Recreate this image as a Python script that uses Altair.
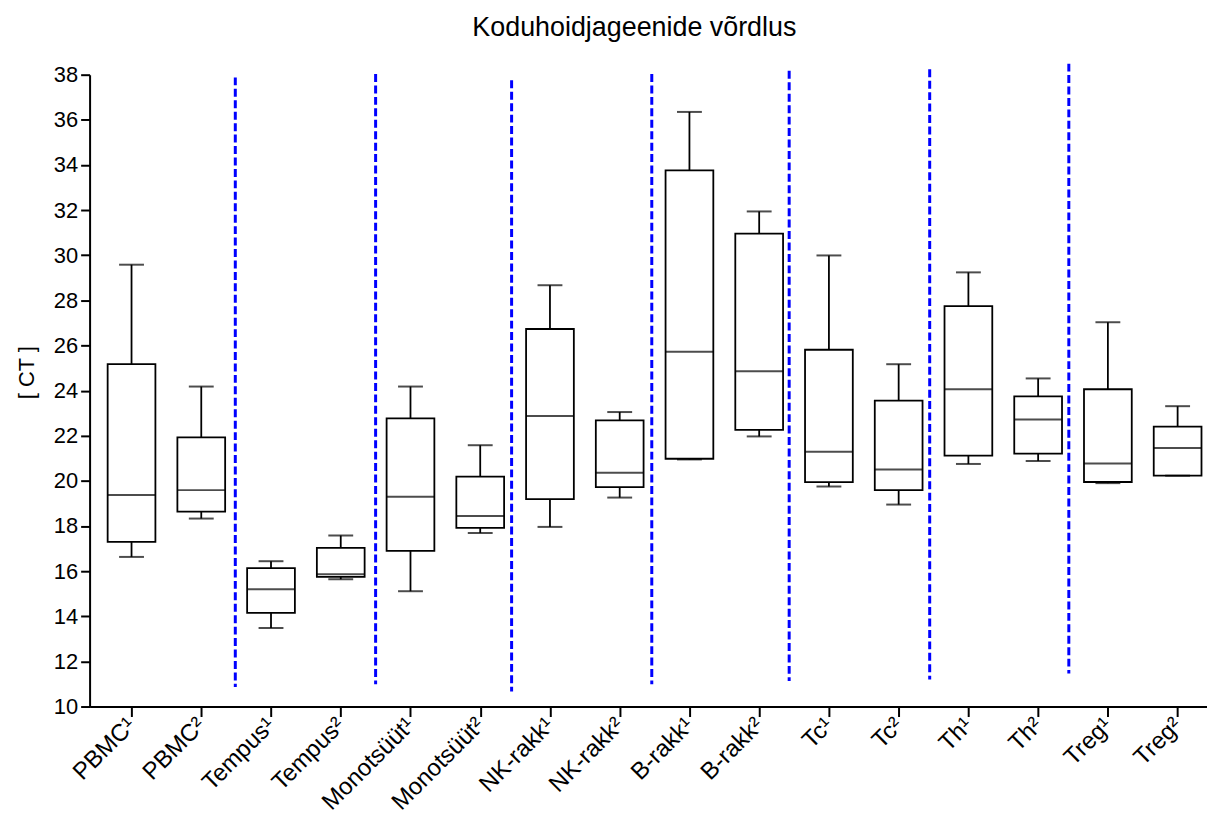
import altair as alt
import pandas as pd

categories = ["PBMC¹", "PBMC²", "Tempus¹", "Tempus²", "Monotsüüt¹", "Monotsüüt²",
              "NK-rakk¹", "NK-rakk²", "B-rakk¹", "B-rakk²", "Tc¹", "Tc²",
              "Th¹", "Th²", "Treg¹", "Treg²"]
whisker_low = [16.63, 18.33, 13.48, 15.64, 15.11, 17.69, 17.96, 19.26, 20.95, 21.97, 19.75, 18.95, 20.75, 20.88, 19.90, 20.23]
quartile1 = [17.30, 18.64, 14.15, 15.75, 16.90, 17.92, 19.19, 19.72, 20.98, 22.26, 19.94, 19.59, 21.12, 21.21, 19.95, 20.23]
median = [19.37, 19.59, 15.20, 15.86, 19.30, 18.44, 22.88, 20.36, 25.72, 24.86, 21.29, 20.50, 24.06, 22.72, 20.77, 21.46]
quartile3 = [25.17, 21.93, 16.13, 17.03, 22.77, 20.19, 26.73, 22.68, 33.76, 30.96, 25.81, 23.56, 27.74, 23.74, 24.06, 22.40]
whisker_high = [29.58, 24.18, 16.44, 17.58, 24.18, 21.58, 28.67, 23.05, 36.35, 31.94, 29.99, 25.17, 29.24, 24.54, 27.03, 23.31]

divider_pos = [1.488, 3.5, 5.45, 7.46, 9.43, 11.445, 13.44]
divider_top = [37.88, 38.03, 37.75, 38.03, 38.17, 38.24, 38.49]
divider_bottom = [10.86, 10.99, 10.67, 10.99, 11.13, 11.2, 11.46]

y_ticks = list(range(10, 39, 2))

FONT = "Liberation Sans"
LW = 1.8

df = pd.DataFrame({
    "idx": list(range(len(categories))),
    "cat": categories,
    "lo": whisker_low,
    "q1": quartile1,
    "med": median,
    "q3": quartile3,
    "hi": whisker_high,
})
div_df = pd.DataFrame({"pos": divider_pos, "top": divider_top, "bottom": divider_bottom})

label_expr = "[" + ",".join("'" + c + "'" for c in categories) + "][datum.value]"

x_scale = alt.Scale(domain=[-0.53, 15.35], nice=False, zero=False)
y_scale = alt.Scale(domain=[10, 38], nice=False, zero=False)

x_axis = alt.Axis(values=list(range(len(categories))), labelExpr=label_expr,
                  labelAngle=-45, labelAlign="right", labelBaseline="middle",
                  labelFontSize=24, labelFont=FONT, labelColor="black",
                  labelPadding=5, labelOverlap=False, labelBound=False, labelFlush=False,
                  tickSize=10, tickWidth=2, tickColor="black",
                  domainWidth=2, domainColor="black", grid=False, title=None)
y_axis = alt.Axis(values=y_ticks, labelFontSize=22, labelFont=FONT, labelColor="black",
                  labelPadding=3, tickSize=9, tickWidth=2, tickColor="black",
                  domainWidth=2, domainColor="black", grid=False,
                  title="[ CT ]", titleFont=FONT, titleFontSize=22, titleFontWeight="normal",
                  titleColor="black", titleX=-63, titleY=299, titleAngle=270,
                  titleAlign="center", titleBaseline="middle")

base = alt.Chart(df)
x_enc = alt.X("idx:Q", scale=x_scale, axis=x_axis)

upper_whisker = base.mark_rule(color="black", strokeWidth=LW).encode(
    x=x_enc, y=alt.Y("q3:Q", scale=y_scale, axis=y_axis), y2="hi:Q")
lower_whisker = base.mark_rule(color="black", strokeWidth=LW).encode(
    x=x_enc, y=alt.Y("lo:Q", scale=y_scale, axis=y_axis), y2="q1:Q")
boxes = base.mark_bar(fill="white", stroke="black", strokeWidth=LW, size=48).encode(
    x=x_enc, y=alt.Y("q1:Q", scale=y_scale, axis=y_axis), y2="q3:Q")
medians = base.mark_tick(orient="horizontal", color="black", size=48, thickness=2).encode(
    x=x_enc, y=alt.Y("med:Q", scale=y_scale, axis=y_axis))
cap_hi = base.mark_tick(orient="horizontal", color="black", size=25, thickness=2).encode(
    x=x_enc, y=alt.Y("hi:Q", scale=y_scale, axis=y_axis))
cap_lo = base.mark_tick(orient="horizontal", color="black", size=25, thickness=2).encode(
    x=x_enc, y=alt.Y("lo:Q", scale=y_scale, axis=y_axis))

dividers = alt.Chart(div_df).mark_rule(color="#0000FF", strokeWidth=3, strokeDash=[8, 3.5]).encode(
    x=alt.X("pos:Q", scale=x_scale, axis=x_axis), y=alt.Y("top:Q", scale=y_scale, axis=y_axis), y2="bottom:Q")

chart = alt.layer(dividers, upper_whisker, lower_whisker, boxes, medians, cap_hi, cap_lo).properties(
    width=1123, height=635,
    background="white",
    padding={"left": 82, "top": 65, "right": 0, "bottom": 110},
    autosize=alt.AutoSizeParams(type="none"),
    title=alt.TitleParams("Koduhoidjageenide võrdlus", font=FONT, fontSize=27,
                          fontWeight="normal", color="black", anchor="middle",
                          dx=-14, offset=20),
).configure_view(strokeWidth=0, stroke="transparent").configure_axis(grid=False)

chart.save("out.html", embed_options={"renderer": "svg", "actions": False})
